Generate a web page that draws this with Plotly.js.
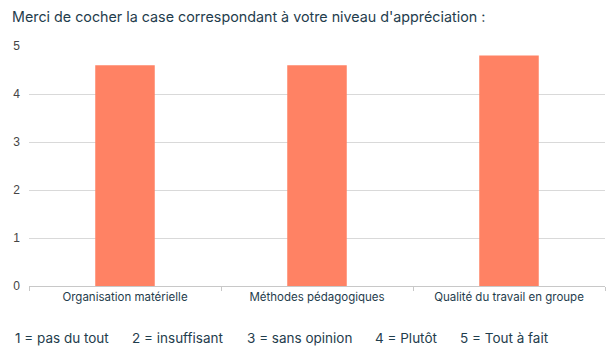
<!DOCTYPE html>
<html>
<head>
<meta charset="utf-8">
<script src="https://cdn.plot.ly/plotly-3.0.1.min.js"></script>
<style>html,body{margin:0;padding:0;background:#fff;}#chart{width:608px;height:358px;}</style>
</head>
<body>
<div id="chart"></div>
<script>
const categories = ["Organisation matérielle", "Méthodes pédagogiques", "Qualité du travail en groupe"];
const values = [4.6, 4.6, 4.8];
const yTicks = [0, 1, 2, 3, 4, 5];
const chartTitle = "Merci de cocher la case correspondant à votre niveau d'appréciation :";
const scaleLabels = ["1 = pas du tout", "2 = insuffisant", "3 = sans opinion", "4 = Plutôt", "5 = Tout à fait"];

const font = "Inter, 'Noto Sans', sans-serif";
const dark = "#1f3d4d";
const notePx = [13, 130, 245, 373, 458];

Plotly.newPlot("chart", [{
  type: "bar",
  x: categories,
  y: values,
  width: 0.31,
  marker: {color: "#ff8264"},
  hoverinfo: "none"
}], {
  width: 608, height: 358,
  margin: {l: 29, r: 3, t: 46, b: 72},
  paper_bgcolor: "#fff", plot_bgcolor: "#fff",
  showlegend: false,
  font: {family: font, color: dark},
  title: {text: chartTitle, x: 12/608, xanchor: "left", xref: "container", y: 1 - 17/358, yanchor: "middle", yref: "container",
          font: {family: font, size: 14.3, color: dark}},
  xaxis: {
    showgrid: false, showline: true, linecolor: "#c8c8c8", linewidth: 1,
    ticks: "outside", tickson: "boundaries", ticklen: 4, tickcolor: "#c8c8c8",
    tickfont: {family: font, size: 11.5, color: dark}, zeroline: false
  },
  yaxis: {
    range: [0, 5], tickvals: yTicks, showgrid: true, gridcolor: "#d9d9d9", gridwidth: 1,
    zeroline: false, showline: false, ticks: "", ticklabelstandoff: 8,
    tickfont: {family: "Liberation Sans, Arial, sans-serif", size: 12, color: "#444"}
  },
  annotations: scaleLabels.map((t, i) => ({
    text: t, xref: "paper", yref: "paper", x: (notePx[i] - 29) / 576, y: -(338 - 286) / 240,
    xanchor: "left", yanchor: "middle", showarrow: false,
    font: {family: font, size: 13.5, color: dark}
  }))
}, {displayModeBar: false, staticPlot: true});
</script>
</body>
</html>
